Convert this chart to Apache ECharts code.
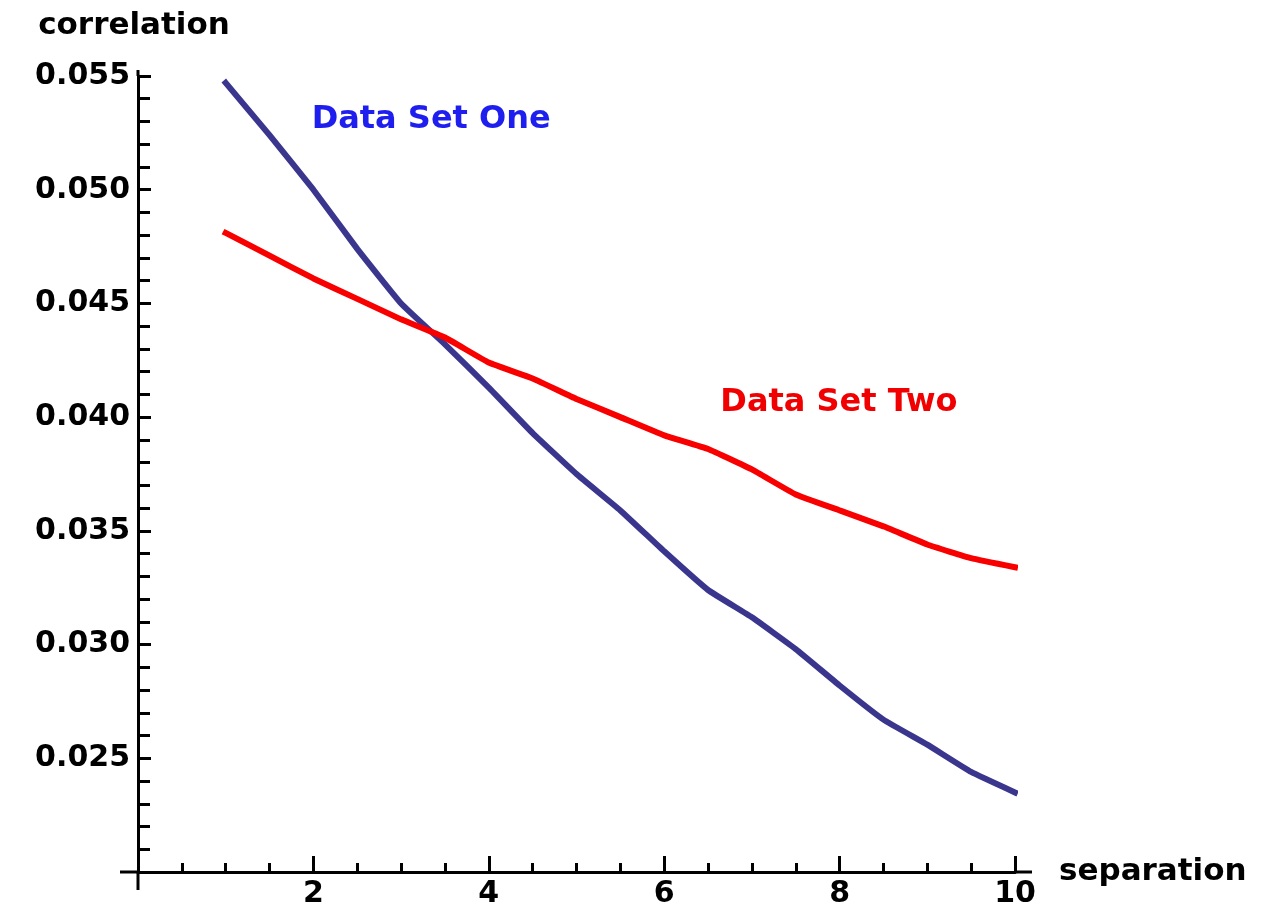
<!DOCTYPE html>
<html>
<head>
<meta charset="utf-8">
<script src="https://cdn.jsdelivr.net/npm/echarts@6/dist/echarts.min.js"></script>
<style>
html,body{margin:0;padding:0;background:#fff;}
#chart{width:1261px;height:909px;}
</style>
</head>
<body>
<div id="chart"></div>
<script>
// separation values
const separation = [1, 1.5, 2, 2.5, 3, 3.5, 4, 4.5, 5, 5.5, 6, 6.5, 7, 7.5, 8, 8.5, 9, 9.5, 10];
// Data Set One (blue)
const dataSetOne = [0.0547, 0.0524, 0.0500, 0.0474, 0.0450, 0.0432, 0.0413, 0.0393, 0.0375, 0.0359, 0.0341, 0.0324, 0.0312, 0.0298, 0.0282, 0.0267, 0.0256, 0.0244, 0.0235];
// Data Set Two (red)
const dataSetTwo = [0.0481, 0.0471, 0.0461, 0.0452, 0.0443, 0.0435, 0.0424, 0.0417, 0.0408, 0.0400, 0.0392, 0.0386, 0.0377, 0.0366, 0.0359, 0.0352, 0.0344, 0.0338, 0.0334];
// axis ranges / ticks
const xRange = [0, 10];
const xInterval = 2;
const yRange = [0.02, 0.055];
const yInterval = 0.005;
// annotation labels
const labelOne = {text: 'Data Set One', at: [1.98, 0.0531]};
const labelTwo = {text: 'Data Set Two', at: [6.64, 0.04065]};

const FONT = 'DejaVu Sans';
const chart = echarts.init(document.getElementById('chart'), null, {renderer: 'canvas'});

function pairs(xs, ys) { return xs.map((x, i) => [x, ys[i]]); }

const option = {
  animation: false,
  backgroundColor: '#ffffff',
  grid: {left: 138, right: 246, top: 76, bottom: 37, containLabel: false},
  xAxis: {
    type: 'value',
    min: xRange[0], max: xRange[1], interval: xInterval,
    name: 'separation', nameLocation: 'end', nameGap: 44,
    nameTextStyle: {fontFamily: FONT, fontWeight: 'bold', fontSize: 31, color: '#000', verticalAlign: 'middle', padding: [0, 0, 8, 0]},
    axisLine: {show: true, lineStyle: {color: '#000', width: 3}},
    axisTick: {show: true, inside: true, length: 16, lineStyle: {color: '#000', width: 3}},
    minorTick: {show: true, splitNumber: 4, length: 9, lineStyle: {color: '#000', width: 3}},
    axisLabel: {show: true, margin: 7, showMinLabel: false, fontFamily: FONT, fontWeight: 'bold', fontSize: 30, color: '#000'},
    splitLine: {show: false}
  },
  yAxis: {
    type: 'value',
    min: yRange[0], max: yRange[1], interval: yInterval,
    name: 'correlation', nameLocation: 'end', nameGap: 50,
    nameTextStyle: {fontFamily: FONT, fontWeight: 'bold', fontSize: 31, color: '#000', align: 'center', verticalAlign: 'middle', padding: [0, 8, 0, 0]},
    axisLine: {show: true, onZero: false, lineStyle: {color: '#000', width: 3}},
    axisTick: {show: true, inside: true, length: 13, lineStyle: {color: '#000', width: 3}},
    minorTick: {show: true, splitNumber: 5, length: 12, lineStyle: {color: '#000', width: 3}},
    axisLabel: {show: true, margin: 8, showMinLabel: false, fontFamily: FONT, fontWeight: 'bold', fontSize: 30, color: '#000',
      formatter: v => v.toFixed(3)},
    splitLine: {show: false}
  },
  series: [
    {
      name: 'Data Set One', type: 'line', data: pairs(separation, dataSetOne),
      showSymbol: false, symbol: 'none', smooth: 0.12,
      lineStyle: {color: '#3a368e', width: 6, cap: 'square'},
      markPoint: {
        symbol: 'circle', symbolSize: 0, silent: true,
        data: [{coord: labelOne.at, label: {show: true, position: 'right', distance: 0, formatter: labelOne.text,
          fontFamily: FONT, fontWeight: 'bold', fontSize: 32, color: '#1e1eee'}}]
      }
    },
    {
      name: 'Data Set Two', type: 'line', data: pairs(separation, dataSetTwo),
      showSymbol: false, symbol: 'none', smooth: 0.12,
      lineStyle: {color: '#f80000', width: 6, cap: 'square'},
      markPoint: {
        symbol: 'circle', symbolSize: 0, silent: true,
        data: [{coord: labelTwo.at, label: {show: true, position: 'right', distance: 0, formatter: labelTwo.text,
          fontFamily: FONT, fontWeight: 'bold', fontSize: 32, color: '#f00000'}}]
      }
    }
  ]
};
chart.setOption(option);

// Axis line extensions (Mathematica-style crossing axes)
const o = chart.convertToPixel({gridIndex: 0}, [xRange[0], yRange[0]]);
const e = chart.convertToPixel({gridIndex: 0}, [xRange[1], yRange[0]]);
const t = chart.convertToPixel({gridIndex: 0}, [xRange[0], yRange[1]]);
const ls = {stroke: '#000', lineWidth: 3};
chart.setOption({
  graphic: [
    {type: 'line', shape: {x1: o[0] - 18, y1: o[1], x2: o[0], y2: o[1]}, style: ls, silent: true},
    {type: 'line', shape: {x1: e[0], y1: e[1], x2: e[0] + 17, y2: e[1]}, style: ls, silent: true},
    {type: 'line', shape: {x1: o[0], y1: o[1], x2: o[0], y2: o[1] + 18}, style: ls, silent: true},
    {type: 'line', shape: {x1: t[0], y1: t[1] - 6, x2: t[0], y2: t[1]}, style: ls, silent: true}
  ]
});
</script>
</body>
</html>
